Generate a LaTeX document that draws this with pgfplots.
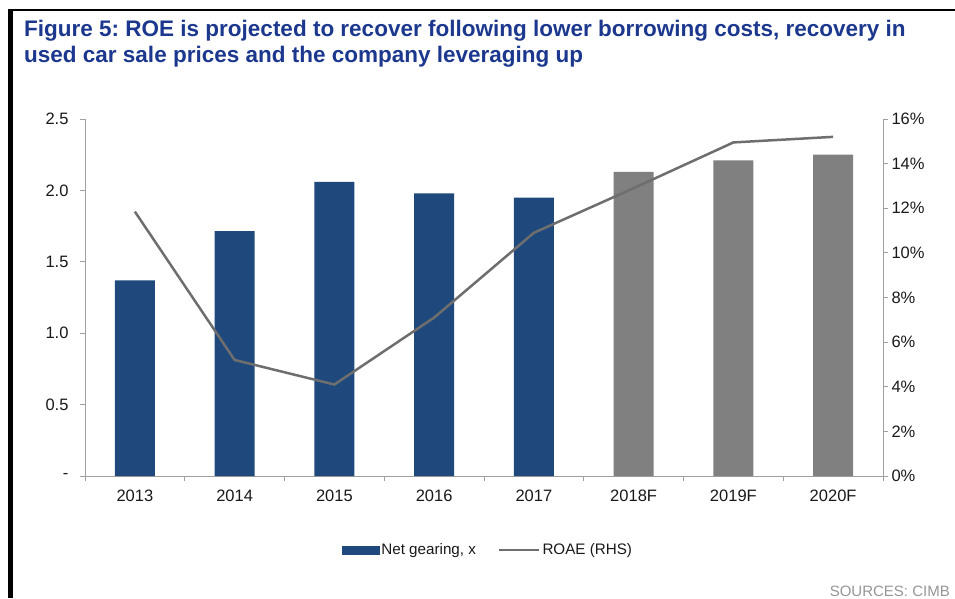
\documentclass[border=0pt]{standalone}
\usepackage{fontspec}
\setmainfont{Liberation Sans}
\usepackage{pgfplots}
\pgfplotsset{compat=1.18}
\definecolor{navy}{RGB}{31,73,125}
\definecolor{bargray}{RGB}{128,128,128}
\definecolor{linegray}{RGB}{110,110,110}
\definecolor{axisgray}{RGB}{160,160,160}
\definecolor{titleblue}{RGB}{28,56,142}
\definecolor{labelcol}{RGB}{25,25,25}
\definecolor{srcgray}{RGB}{150,150,150}
\frenchspacing
\begin{document}
\begin{tikzpicture}
\path[use as bounding box] (0pt,0pt) rectangle (955pt,-598pt);
\fill[black] (8pt,-9pt) rectangle (13pt,-598pt);
\fill[black] (8pt,-9pt) rectangle (955pt,-10.5pt);
\node[anchor=base west, text=titleblue, font=\bfseries\fontsize{22.5}{26}\selectfont, inner sep=0] at (24pt,-36pt) {Figure 5: ROE is projected to recover following lower borrowing costs, recovery in};
\node[anchor=base west, text=titleblue, font=\bfseries\fontsize{22.5}{26}\selectfont, inner sep=0] at (24pt,-62pt) {used car sale prices and the company leveraging up};
\node[anchor=base east, text=srcgray, font=\fontsize{15}{18}\selectfont, inner sep=0] at (950pt,-596pt) {SOURCES: CIMB};

\begin{axis}[
  at={(85pt,-476pt)}, anchor=south west, scale only axis,
  width=798pt, height=357pt,
  xmin=-0.5, xmax=7.5, ymin=0, ymax=2.5,
  axis x line*=bottom, axis y line*=left,
  axis line style={draw=axisgray, line width=1pt, -},
  xtick={-0.5,0.5,1.5,2.5,3.5,4.5,5.5,6.5,7.5},
  x tick label as interval,
  xticklabels={2013,2014,2015,2016,2017,2018F,2019F,2020F},
  ytick={0,0.5,1,1.5,2,2.5},
  yticklabels={-,0.5,1.0,1.5,2.0,2.5},
  tick align=outside, major tick length=5pt,
  every tick/.style={draw=axisgray, line width=1pt},
  ticklabel style={font=\fontsize{16.5}{19}\selectfont, text=labelcol},
  xticklabel style={yshift=-5pt},
  yticklabel style={xshift=-8pt},
  /pgf/number format/assume math mode=true,
  clip=false,
]
\addplot[ybar, bar width=40pt, bar shift=0pt, fill=navy, draw=none] coordinates {(0,1.37) (1,1.715) (2,2.06) (3,1.98) (4,1.95)};
\addplot[ybar, bar width=40pt, bar shift=0pt, fill=bargray, draw=none] coordinates {(5,2.13) (6,2.21) (7,2.25)};
\end{axis}

\begin{axis}[
  at={(85pt,-476pt)}, anchor=south west, scale only axis,
  width=798pt, height=357pt,
  xmin=-0.5, xmax=7.5, ymin=0, ymax=16,
  axis x line=none, axis y line*=right,
  axis line style={draw=axisgray, line width=1pt, -},
  ytick={0,2,4,6,8,10,12,14,16},
  yticklabels={0\%,2\%,4\%,6\%,8\%,10\%,12\%,14\%,16\%},
  tick align=outside, major tick length=5pt,
  every tick/.style={draw=axisgray, line width=1pt},
  ticklabel style={font=\fontsize{16.5}{19}\selectfont, text=labelcol},
  /pgf/number format/assume math mode=true,
  legend style={draw=none, fill=none, at={(0.505,-0.207)}, anchor=center,
    font=\fontsize{15.2}{18}\selectfont, text=labelcol,
    /tikz/every even column/.append style={column sep=20pt}},
  legend columns=2,
]
\addlegendimage{legend image code/.code={\fill[navy] (0pt,-4pt) rectangle (37pt,4pt);}}
\addlegendentry{Net gearing, x}
\addplot[linegray, line width=2.5pt, legend image code/.code={\draw[linegray, line width=2.5pt] (0pt,0pt) -- (40pt,0pt);}] coordinates {(0,11.85) (1,5.2) (2,4.1) (3,7.1) (4,10.9) (5,12.9) (6,14.95) (7,15.2)};
\addlegendentry{ROAE (RHS)}
\end{axis}
\end{tikzpicture}
\end{document}
